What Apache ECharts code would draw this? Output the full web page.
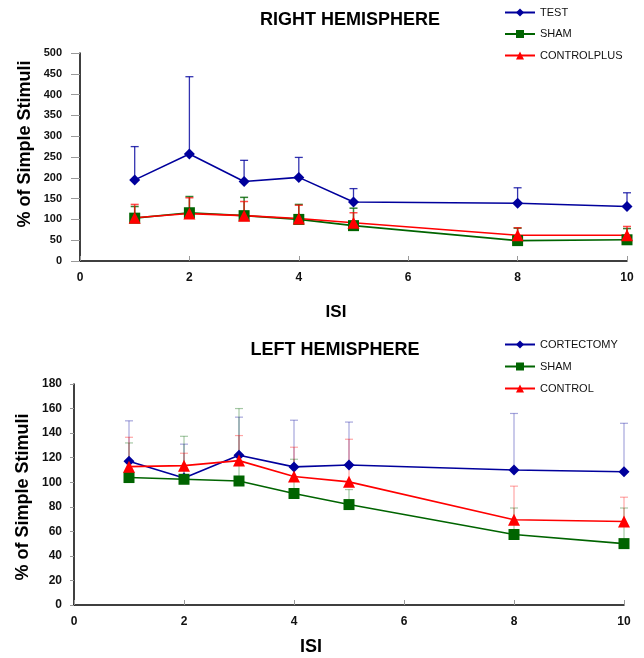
<!DOCTYPE html>
<html><head><meta charset="utf-8">
<script src="https://cdn.jsdelivr.net/npm/echarts@6/dist/echarts.min.js"></script>
<style>html,body{margin:0;padding:0;background:#fff}#c{width:644px;height:658px}</style>
</head><body><div id="c"></div>
<script>
// ---- data ----
const isi = [1, 2, 3, 4, 5, 8, 10];
const xTicks = [0, 2, 4, 6, 8, 10];
// Right hemisphere
const rTest = [195, 257, 191, 201, 142, 139, 131];
const rTestErr = [275, 443, 242, 249, 174, 176, 164];
const rSham = [103, 116, 109, 100, 85, 49, 51];
const rShamErr = [131, 155, 153, 136, 127, 79, 78];
const rCtrl = [104, 114, 109, 102, 92, 62, 62];
const rCtrlErr = [136, 152, 143, 134, 116, 80, 83];
// Left hemisphere
const lCort = [117, 103.5, 122, 112.5, 114, 110, 108.5];
const lCortErr = [150, 131, 153, 150.5, 149, 156, 148];
const lSham = [103.8, 102.4, 101, 90.8, 81.8, 57.4, 50];
const lShamErr = [132, 137.4, 160, 118.7, 94, 79, 79];
const lCtrl = [112.7, 113.5, 117.6, 104.6, 100.3, 69.4, 68];
const lCtrlErr = [136.6, 123.6, 138, 128.5, 135, 96.8, 87.8];

const BLUE = '#00009c', GREEN = '#006400', RED = '#ff0000';
const font = 'Liberation Sans, Arial, sans-serif';

function pairs(ys) { return isi.map((x, i) => [x, ys[i]]); }
function errData(ys, tops) { return isi.map((x, i) => [x, ys[i], tops[i]]); }

function lineSeries(name, ys, color, symbol, size, idx) {
  return {
    name, type: 'line', data: pairs(ys), xAxisIndex: idx, yAxisIndex: idx,
    symbol, symbolSize: size, color,
    lineStyle: { color, width: 1.6 }, itemStyle: { color },
    z: 3
  };
}
function errSeries(ys, tops, color, opacity, idx, w) {
  return {
    type: 'custom', xAxisIndex: idx, yAxisIndex: idx, silent: true,
    data: errData(ys, tops), z: 2,
    renderItem: function (params, api) {
      const p0 = api.coord([api.value(0), api.value(1)]);
      const p1 = api.coord([api.value(0), api.value(2)]);
      const st = { stroke: color, lineWidth: w, opacity: opacity };
      return { type: 'group', children: [
        { type: 'line', shape: { x1: p0[0], y1: p0[1], x2: p1[0], y2: p1[1] }, style: st },
        { type: 'line', shape: { x1: p1[0] - 4, y1: p1[1], x2: p1[0] + 4, y2: p1[1] }, style: st }
      ]};
    }
  };
}

function xAxis(idx) {
  return {
    type: 'value', gridIndex: idx, min: 0, max: 10, interval: 2,
    axisLine: { lineStyle: { color: '#000', width: 1.5 } },
    axisTick: { show: true, inside: true, length: 5, lineStyle: { color: '#999' } },
    axisLabel: { margin: 11, fontFamily: font, fontWeight: 'bold', fontSize: 12, color: '#111' },
    splitLine: { show: false }
  };
}
function yAxis(idx, max, interval, fs, margin, tick) {
  return {
    type: 'value', gridIndex: idx, min: 0, max, interval,
    axisLine: { show: true, lineStyle: { color: '#000', width: 1.5 } },
    axisTick: { show: true, length: tick, lineStyle: { color: '#999' } },
    axisLabel: { margin, fontFamily: font, fontWeight: 'bold', fontSize: fs, color: '#111' },
    splitLine: { show: false }
  };
}
function txt(text, x, y, size, rot) {
  return { type: 'text', x, y, rotation: rot || 0, silent: true,
    style: { text, fontFamily: font, fontWeight: 'bold', fontSize: size, fill: '#000',
      align: 'center', verticalAlign: 'middle' } };
}

const chart = echarts.init(document.getElementById('c'));
chart.setOption({
  animation: false,
  backgroundColor: '#fff',
  title: [
    { text: 'RIGHT HEMISPHERE', left: 345, top: 6, textAlign: 'center',
      textStyle: { fontFamily: font, fontWeight: 'bold', fontSize: 18, color: '#000' } },
    { text: 'LEFT HEMISPHERE', left: 330, top: 336, textAlign: 'center',
      textStyle: { fontFamily: font, fontWeight: 'bold', fontSize: 18, color: '#000' } }
  ],
  legend: [
    { data: ['TEST', 'SHAM', 'CONTROLPLUS'], orient: 'vertical', left: 499, top: 2,
      itemWidth: 30, itemHeight: 10, itemGap: 10.5,
      textStyle: { fontFamily: font, fontSize: 11, color: '#111' } },
    { data: ['CORTECTOMY', 'SHAM ', 'CONTROL'], orient: 'vertical', left: 499, top: 334,
      itemWidth: 30, itemHeight: 10, itemGap: 11,
      textStyle: { fontFamily: font, fontSize: 11, color: '#111' } }
  ],
  grid: [
    { left: 80, right: 17, top: 53, height: 208 },
    { left: 74, right: 20, top: 384, height: 221 }
  ],
  xAxis: [xAxis(0), xAxis(1)],
  yAxis: [yAxis(0, 500, 50, 11, 18, 9), yAxis(1, 180, 20, 12, 12, 4)],
  graphic: [
    txt('% of Simple Stimuli', 25, 144, 18, Math.PI / 2),
    txt('% of Simple Stimuli', 23, 497, 18, Math.PI / 2),
    txt('ISI', 336, 312, 17),
    txt('ISI', 311, 647, 18)
  ],
  series: [
    errSeries(rTest, rTestErr, BLUE, 0.8, 0, 1.3),
    errSeries(rSham, rShamErr, GREEN, 0.8, 0, 1.5),
    errSeries(rCtrl, rCtrlErr, RED, 0.7, 0, 1.5),
    lineSeries('TEST', rTest, BLUE, 'diamond', 11, 0),
    lineSeries('SHAM', rSham, GREEN, 'rect', 11, 0),
    lineSeries('CONTROLPLUS', rCtrl, RED, 'triangle', 12, 0),
    errSeries(lCort, lCortErr, BLUE, 0.35, 1, 1.2),
    errSeries(lSham, lShamErr, GREEN, 0.35, 1, 1.2),
    errSeries(lCtrl, lCtrlErr, RED, 0.35, 1, 1.2),
    lineSeries('CORTECTOMY', lCort, BLUE, 'diamond', 11, 1),
    lineSeries('SHAM ', lSham, GREEN, 'rect', 11, 1),
    lineSeries('CONTROL', lCtrl, RED, 'triangle', 12, 1)
  ]
});
</script></body></html>
